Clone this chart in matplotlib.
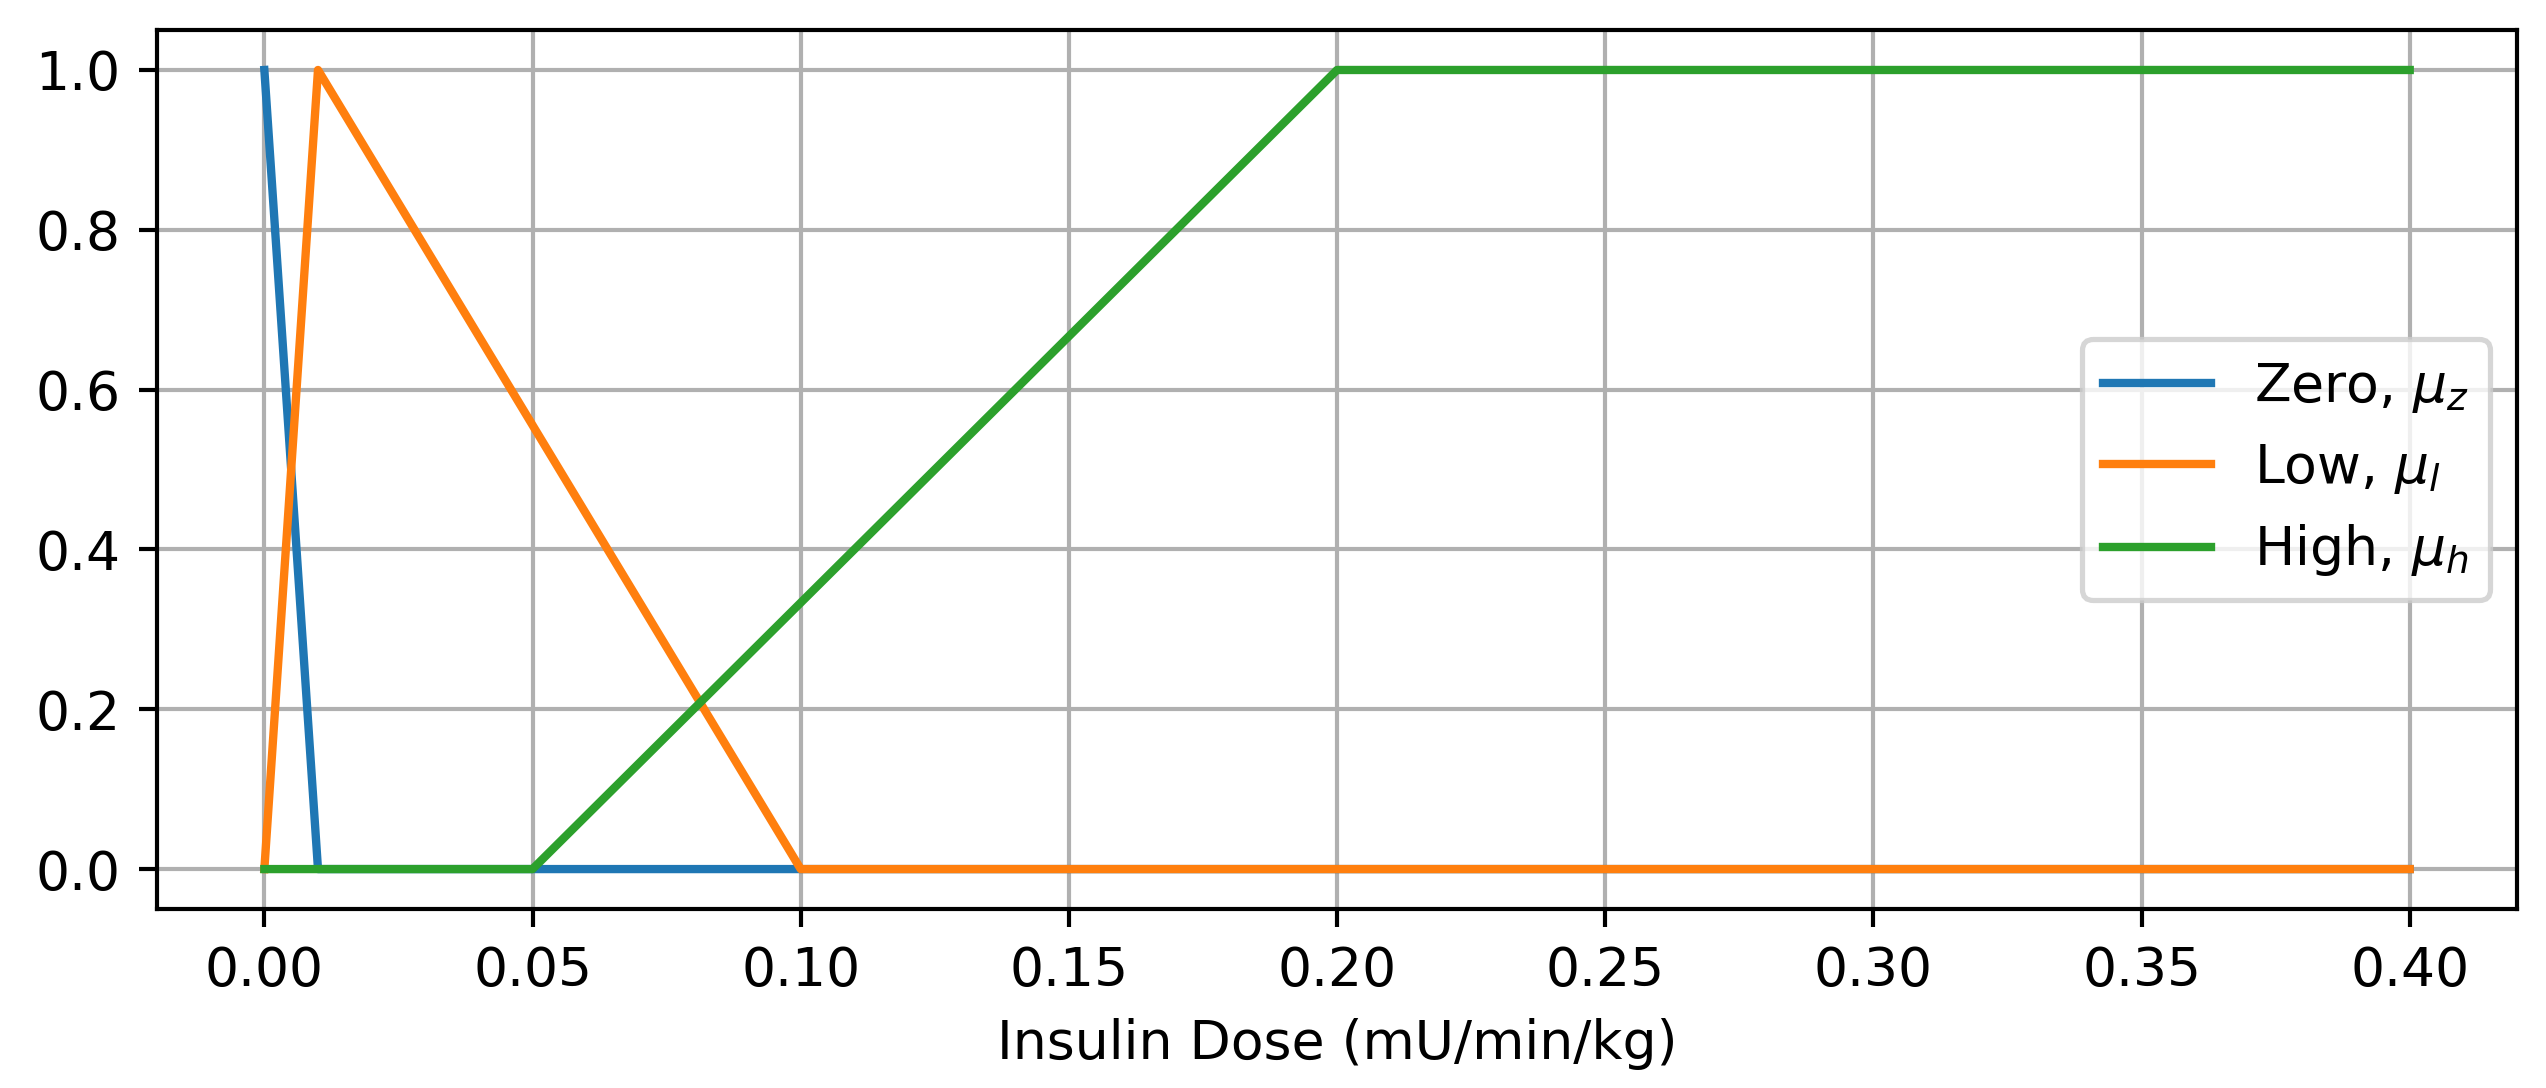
import numpy as np
import matplotlib.pyplot as plt

# membership function breakpoints (insulin dose, mU/min/kg)
zero_x = [0.0, 0.01, 0.1, 0.4]
zero_y = [1.0, 0.0, 0.0, 0.0]

low_x = [0.0, 0.01, 0.1, 0.4]
low_y = [0.0, 1.0, 0.0, 0.0]

high_x = [0.0, 0.05, 0.2, 0.4]
high_y = [0.0, 0.0, 1.0, 1.0]

xticks = [0.00, 0.05, 0.10, 0.15, 0.20, 0.25, 0.30, 0.35, 0.40]

plt.rcParams['font.size'] = 10.3
plt.rcParams['lines.linewidth'] = 1.6

dpi = 375
fig = plt.figure(figsize=(2546 / dpi, 1088 / dpi), dpi=dpi)
ax = fig.add_axes([0.0617, 0.1645, 0.9886 - 0.0617, 0.9724 - 0.1645])

ax.plot(zero_x, zero_y, label=r'Zero, $\mu_z$')
ax.plot(low_x, low_y, label=r'Low, $\mu_l$')
ax.plot(high_x, high_y, label=r'High, $\mu_h$')

ax.set_xticks(xticks)
ax.grid(True)
ax.set_xlabel('Insulin Dose (mU/min/kg)')
ax.legend(loc='center right')

fig.savefig('out.png', dpi=dpi)
